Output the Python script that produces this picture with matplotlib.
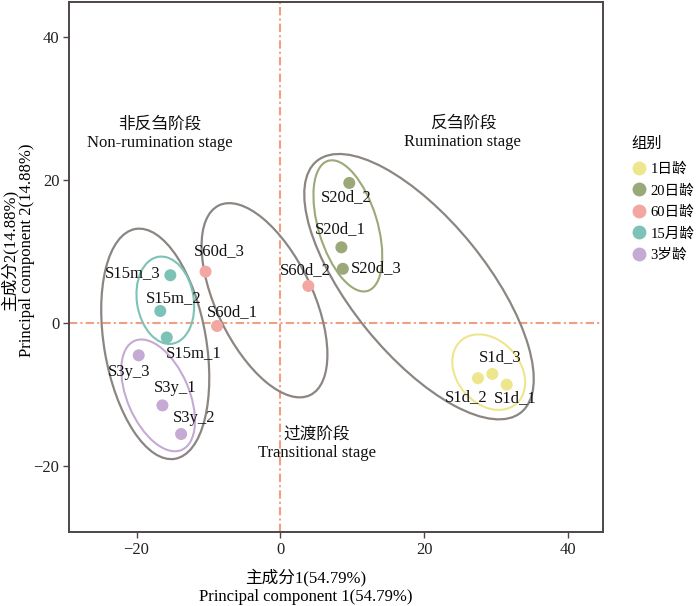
import matplotlib
matplotlib.use("Agg")
import matplotlib.pyplot as plt
from matplotlib.patches import Ellipse
from matplotlib.lines import Line2D

# 字体：英文用 Times 风格，中文回退到 Noto Sans CJK
plt.rcParams['font.family'] = ['Liberation Serif', 'Noto Sans CJK SC']
plt.rcParams['axes.unicode_minus'] = True

# ---------------- 数据 ----------------
groups = ['1日龄', '20日龄', '60日龄', '15月龄', '3岁龄']
group_colors = ['#EEE68C', '#9BA878', '#F2A7A2', '#7DC2B6', '#C5AAD4']

sample_names = ['S1d_1', 'S1d_2', 'S1d_3',
                'S20d_1', 'S20d_2', 'S20d_3',
                'S60d_1', 'S60d_2', 'S60d_3',
                'S15m_1', 'S15m_2', 'S15m_3',
                'S3y_1', 'S3y_2', 'S3y_3']
sample_group = [0, 0, 0, 1, 1, 1, 2, 2, 2, 3, 3, 3, 4, 4, 4]
pc1 = [31.5, 27.5, 29.5, 8.5, 9.6, 8.7, -8.8, 3.9, -10.4,
       -15.8, -16.7, -15.3, -16.4, -13.8, -19.7]
pc2 = [-8.6, -7.7, -7.1, 10.6, 19.6, 7.6, -0.4, 5.2, 7.2,
       -2.0, 1.7, 6.7, -11.5, -15.5, -4.5]

# 各组置信椭圆（中心、长轴、短轴、角度）
grp_ell_cx = [29.0, 9.4, None, -16.0, -17.0]
grp_ell_cy = [-6.85, 13.6, None, 3.2, -10.1]
grp_ell_a = [11.7, 19.0, None, 12.3, 16.6]
grp_ell_b = [8.8, 8.2, None, 7.9, 8.6]
grp_ell_ang = [130.8, 106.8, None, 98.9, 113.2]

# 阶段椭圆：非反刍、过渡、反刍
stage_names = ['非反刍阶段\nNon-rumination stage', '过渡阶段\nTransitional stage',
               '反刍阶段\nRumination stage']
stage_ell_cx = [-17.4, -2.2, 19.3]
stage_ell_cy = [-2.9, 3.2, 5.1]
stage_ell_a = [32.6, 29.4, 45.2]
stage_ell_b = [14.2, 13.4, 18.8]
stage_ell_ang = [99.7, 115.5, 128.9]
stage_text_x = [-16.8, 5.1, 25.4]
stage_text_y = [26.5, -16.9, 26.6]

# 标签偏移（像素，右/上为正）
label_dx = [9, -12, 8, -1, -3, 33, 15, -3, 14, 27, 13, -38, 13, 13, -10]
label_dy = [-13, -19, 17, 18, -14, 1, 14, 16, 21, -16, 13, 2, 17, 16, -17]

# ---------------- 绘图 ----------------
fig = plt.figure(figsize=(7.0, 6.06), dpi=100)
ax = fig.add_axes([69 / 700, 74 / 606, 534 / 700, 530 / 606])

frame_col = '#4D4646'
line_col = '#F0A080'

ax.axvline(0, color=line_col, lw=1.5, ls=(0, (4, 1.5, 1, 1.5)), zorder=1)
ax.axhline(0, color=line_col, lw=1.5, ls=(0, (4, 1.5, 1, 1.5)), zorder=1)

for i in range(3):
    e = Ellipse((stage_ell_cx[i], stage_ell_cy[i]), stage_ell_a[i], stage_ell_b[i],
                angle=stage_ell_ang[i], fill=False, ec='#8C8682', lw=1.6, zorder=2)
    ax.add_patch(e)
    ax.text(stage_text_x[i], stage_text_y[i], stage_names[i], ha='center', va='center',
            fontsize=12, linespacing=1.2, color='#111111', zorder=5)

for g in range(len(groups)):
    if grp_ell_cx[g] is None:
        continue
    e = Ellipse((grp_ell_cx[g], grp_ell_cy[g]), grp_ell_a[g], grp_ell_b[g],
                angle=grp_ell_ang[g], fill=False, ec=group_colors[g], lw=1.5, zorder=2)
    ax.add_patch(e)

cols = [group_colors[g] for g in sample_group]
ax.scatter(pc1, pc2, s=75, c=cols, edgecolors='none', zorder=4)

for i, name in enumerate(sample_names):
    ax.annotate(name, (pc1[i], pc2[i]), xytext=(label_dx[i], label_dy[i]),
                textcoords='offset pixels', ha='center', va='center',
                fontsize=12, color='#111111', zorder=6)

ax.set_xlim(-29.4, 44.9)
ax.set_ylim(-29.2, 44.9)
ax.set_xticks([-20, 0, 20, 40])
ax.set_yticks([-20, 0, 20, 40])
ax.tick_params(direction='out', length=4, width=1, color=frame_col,
               labelsize=12, labelcolor='#222222', pad=3)
for sp in ax.spines.values():
    sp.set_color(frame_col)
    sp.set_linewidth(1.4)

# 坐标轴标题
fig.text(306 / 700, 1 - 577 / 606, '主成分1(54.79%)', ha='center', va='center', fontsize=12)
fig.text(306 / 700, 1 - 597 / 606, 'Principal component 1(54.79%)', ha='center',
         va='center', fontsize=12)
fig.text(10 / 700, 1 - 250 / 606, '主成分2(14.88%)', ha='center', va='center',
         rotation=90, fontsize=12)
fig.text(27 / 700, 1 - 250 / 606, 'Principal component 2(14.88%)', ha='center',
         va='center', rotation=90, fontsize=12)

# 图例
handles = [Line2D([], [], ls='none', marker='o', ms=10, mfc=c, mec='none')
           for c in group_colors]
leg = fig.legend(handles, groups, title='组别', loc='upper left',
                 bbox_to_anchor=(624 / 700, 1 - 130 / 606), frameon=False,
                 fontsize=10.5, title_fontsize=11, handlelength=1.0,
                 handletextpad=0.3, labelspacing=0.55, borderpad=0)
leg._legend_box.align = 'left'
leg._legend_box.sep = 8

fig.savefig('out.png', dpi=100)
